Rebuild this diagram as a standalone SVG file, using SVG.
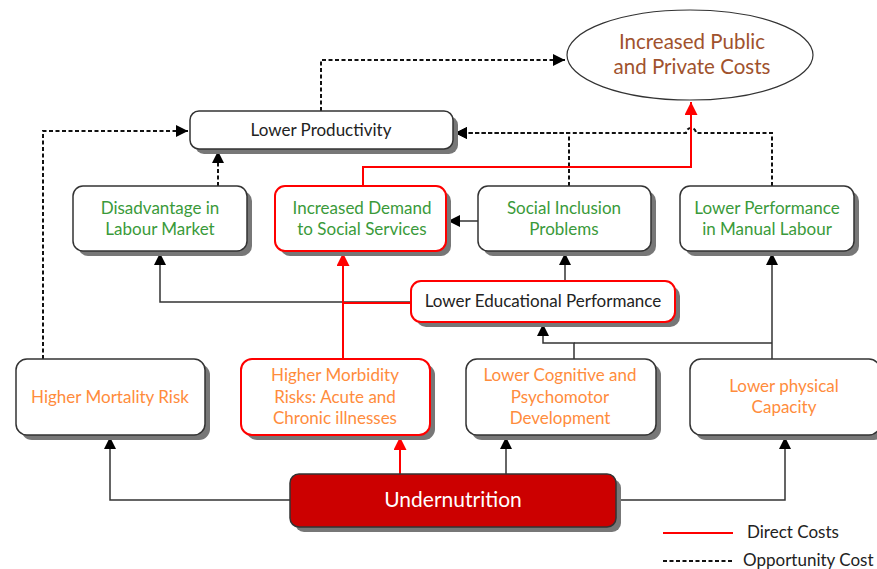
<svg xmlns="http://www.w3.org/2000/svg" width="877" height="569" viewBox="0 0 877 569">
<defs>
<marker id="ab" viewBox="0 0 10 10" refX="10" refY="5" markerWidth="13" markerHeight="12" markerUnits="userSpaceOnUse" orient="auto"><path d="M0,0 L10,5 L0,10 Z" fill="#000"/></marker>
<marker id="ar" viewBox="0 0 10 10" refX="10" refY="5" markerWidth="14" markerHeight="13" markerUnits="userSpaceOnUse" orient="auto"><path d="M0,0 L10,5 L0,10 Z" fill="#ff0000"/></marker>
<style>
.sh{fill:#777;}
.bx{fill:#fff;stroke:#333;stroke-width:1.5;}
.rb{fill:#fff;stroke:#ff0000;stroke-width:2;}
text{font-family:Lato,"Open Sans","Liberation Sans",sans-serif;font-size:17px;text-anchor:middle;}
.g{fill:#3a9a3a;}
.o{fill:#ff8c3c;}
.k{fill:#222;}
.sol{fill:none;stroke:#333;stroke-width:1.5;}
.das{fill:none;stroke:#111;stroke-width:2;stroke-dasharray:4,2.5;}
.red{fill:none;stroke:#ff0000;stroke-width:2;}
</style>
</defs>
<rect width="877" height="569" fill="#fff"/>

<g id="connectors">
<path class="das" d="M321,111 V60 H565" marker-end="url(#ab)"/>
<path class="das" d="M43,359 V131 H188" marker-end="url(#ab)"/>
<path class="das" d="M218,186 V151" marker-end="url(#ab)"/>
<path class="das" d="M569,186 V133 H455" marker-end="url(#ab)"/>
<path class="das" d="M772,186 V133 H696 A5,5 0 0 0 686,133 H455" marker-end="url(#ab)"/>
<path class="sol" d="M411,302 H160 V253" marker-end="url(#ab)"/>
<path class="sol" d="M478,221 H448" marker-end="url(#ab)"/>
<path class="sol" d="M565,281 V253" marker-end="url(#ab)"/>
<path class="sol" d="M574,359 V343 H543 V324" marker-end="url(#ab)"/>
<path class="sol" d="M772,359 V253" marker-end="url(#ab)"/>
<path class="sol" d="M574,343 H772"/>
<path class="sol" d="M290,500 H110 V437" marker-end="url(#ab)"/>
<path class="sol" d="M506,474 V437" marker-end="url(#ab)"/>
<path class="sol" d="M616,500 H785 V437" marker-end="url(#ab)"/>
<path class="red" d="M363,186 V167 H691 V102" marker-end="url(#ar)"/>
<path class="red" d="M411,303 H343"/>
<path class="red" d="M343,359 V253" marker-end="url(#ar)"/>
<path class="red" d="M400,474 V437" marker-end="url(#ar)"/>
</g>

<g id="costs">
<ellipse cx="690" cy="55" rx="123" ry="45" fill="#fff" stroke="#333" stroke-width="1.2"/>
<text x="692" y="49" style="font-size:20.5px;fill:#a0522d">Increased Public</text>
<text x="692" y="74" style="font-size:20.5px;fill:#a0522d">and Private Costs</text>
</g>

<g id="productivity">
<rect class="sh" x="195" y="116" width="263" height="38" rx="9"/>
<rect class="bx" x="190" y="111" width="263" height="38" rx="9"/>
<text class="k" x="321" y="136">Lower Productivity</text>
</g>

<g id="disadvantage">
<rect class="sh" x="78" y="191" width="174" height="65" rx="10"/>
<rect class="bx" x="73" y="186" width="174" height="65" rx="10"/>
<text class="g" x="160" y="214">Disadvantage in</text>
<text class="g" x="160" y="235">Labour Market</text>
</g>

<g id="demand">
<rect class="sh" x="280" y="191" width="171" height="65" rx="10"/>
<rect class="rb" x="275" y="186" width="171" height="65" rx="10"/>
<text class="g" x="362" y="214">Increased Demand</text>
<text class="g" x="362" y="235">to Social Services</text>
</g>

<g id="inclusion">
<rect class="sh" x="483" y="191" width="173" height="65" rx="10"/>
<rect class="bx" x="478" y="186" width="173" height="65" rx="10"/>
<text class="g" x="564" y="214">Social Inclusion</text>
<text class="g" x="564" y="235">Problems</text>
</g>

<g id="manual">
<rect class="sh" x="685" y="191" width="174" height="65" rx="10"/>
<rect class="bx" x="680" y="186" width="174" height="65" rx="10"/>
<text class="g" x="767" y="214">Lower Performance</text>
<text class="g" x="767" y="235">in Manual Labour</text>
</g>

<g id="education">
<rect class="sh" x="416" y="286" width="264" height="41" rx="10"/>
<rect class="rb" x="411" y="281" width="264" height="41" rx="10"/>
<text class="k" x="543" y="307">Lower Educational Performance</text>
</g>

<g id="mortality">
<rect class="sh" x="21" y="364" width="189" height="76" rx="11"/>
<rect class="bx" x="16" y="359" width="189" height="76" rx="11"/>
<text class="o" x="110" y="403">Higher Mortality Risk</text>
</g>

<g id="morbidity">
<rect class="sh" x="246" y="364" width="189" height="76" rx="11"/>
<rect class="rb" x="241" y="359" width="189" height="76" rx="11"/>
<text class="o" x="335" y="381">Higher Morbidity</text>
<text class="o" x="335" y="403">Risks: Acute and</text>
<text class="o" x="335" y="424">Chronic illnesses</text>
</g>

<g id="cognitive">
<rect class="sh" x="471" y="364" width="190" height="76" rx="11"/>
<rect class="bx" x="466" y="359" width="190" height="76" rx="11"/>
<text class="o" x="560" y="381">Lower Cognitive and</text>
<text class="o" x="560" y="403">Psychomotor</text>
<text class="o" x="560" y="424">Development</text>
</g>

<g id="physical">
<rect class="sh" x="695" y="364" width="190" height="76" rx="11"/>
<rect class="bx" x="690" y="359" width="190" height="76" rx="11"/>
<text class="o" x="784" y="392">Lower physical</text>
<text class="o" x="784" y="413">Capacity</text>
</g>

<g id="undernutrition">
<rect class="sh" x="295" y="479" width="326" height="53" rx="9"/>
<rect x="290" y="474" width="326" height="53" rx="9" fill="#cc0000" stroke="#333" stroke-width="1.5"/>
<text x="453" y="507" style="font-size:21px;fill:#fff">Undernutrition</text>
</g>

<g id="legend">
<line x1="663" y1="533" x2="733" y2="533" stroke="#ff0000" stroke-width="2"/>
<text class="k" x="747" y="538" style="text-anchor:start">Direct Costs</text>
<line x1="663" y1="561" x2="733" y2="561" stroke="#111" stroke-width="2" stroke-dasharray="4,2.5"/>
<text class="k" x="743" y="566" style="text-anchor:start">Opportunity Cost</text>
</g>
</svg>
